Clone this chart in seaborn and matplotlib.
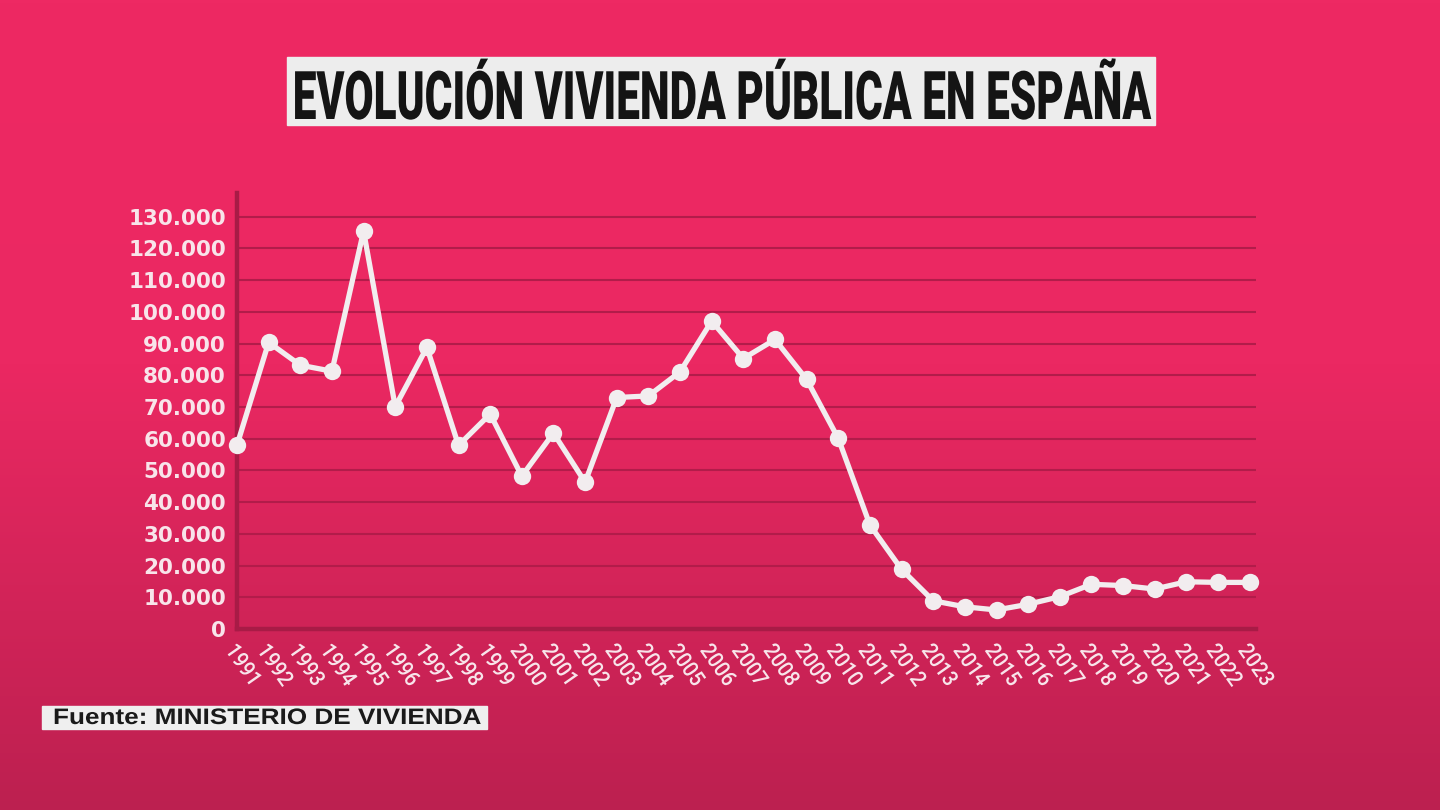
import matplotlib
matplotlib.use("Agg")
import numpy as np
import matplotlib.pyplot as plt
import seaborn as sns
from matplotlib.patheffects import AbstractPathEffect
from matplotlib.transforms import Affine2D
from matplotlib.colors import LinearSegmentedColormap
from matplotlib.patches import Rectangle
from matplotlib.ticker import FuncFormatter

# datos (viviendas protegidas por año)
years = list(range(1991, 2024))
viviendas = [58000, 90400, 83200, 81300, 125500, 70100, 88800, 57900, 67800, 48200,
             61800, 46300, 73000, 73500, 81100, 97100, 85300, 91300, 78700, 60100,
             32800, 18800, 8900, 7000, 6000, 7800, 10200, 14100, 13700, 12600,
             14900, 14700, 14700]
y_ticks = list(range(0, 130001, 10000))

TITLE = "EVOLUCIÓN VIVIENDA PÚBLICA EN ESPAÑA"
SOURCE = "Fuente: MINISTERIO DE VIVIENDA"

W, H = 1440, 810


class Stretch(AbstractPathEffect):
    """Estira el texto en vertical (para imitar una fuente condensada)."""
    def __init__(self, sy):
        super().__init__()
        self.sy = sy

    def draw_path(self, renderer, gc, tpath, affine, rgbFace=None):
        renderer.draw_path(gc, tpath, Affine2D().scale(1, self.sy) + affine, rgbFace)


sns.set_theme(style="white")
plt.rcParams["font.family"] = ["DejaVu Sans"]

fig = plt.figure(figsize=(W / 100, H / 100), dpi=100)

# fondo degradado
bg = fig.add_axes([0, 0, 1, 1], zorder=-10)
cmap = LinearSegmentedColormap.from_list(
    "bg", [(0, "#EE2963"), (0.45, "#EB2862"), (1, "#BC2050")])
grad = np.linspace(0, 1, 256).reshape(-1, 1)
bg.imshow(grad, aspect="auto", cmap=cmap, extent=[0, 1, 0, 1], origin="upper")
bg.set_axis_off()

# eje principal
x0, x1 = 237, 1256
y0, y1 = 629, 193
ax = fig.add_axes([x0 / W, (H - y0) / H, (x1 - x0) / W, (y0 - y1) / H])
ax.set_facecolor("none")

grid_col = "#B21C4A"
spine_col = "#A81B46"

sns.lineplot(x=years, y=viviendas, ax=ax, color="#F2EDEF", lw=3.8,
             marker="o", markersize=12.5, markeredgewidth=0,
             zorder=5, clip_on=False)

ax.set_xlim(1991, 2023.2)
ax.set_ylim(0, 137500)
ax.set_yticks(y_ticks)
ax.yaxis.set_major_formatter(FuncFormatter(lambda v, p: f"{int(v):,}".replace(",", ".")))
ax.set_xticks(years)
ax.set_xticklabels([str(y) for y in years])

ax.yaxis.grid(True, color=grid_col, lw=1.5)
ax.xaxis.grid(False)
ax.set_axisbelow(True)
ax.set_xlabel("")
ax.set_ylabel("")

for s in ["top", "right"]:
    ax.spines[s].set_visible(False)
for s in ["left", "bottom"]:
    ax.spines[s].set_color(spine_col)
    ax.spines[s].set_linewidth(3.2)

ax.tick_params(axis="both", length=0)
ax.tick_params(axis="y", pad=8)
ax.tick_params(axis="x", pad=9)
for lab in ax.get_yticklabels():
    lab.set_color("#F8E4EA")
    lab.set_fontsize(15.5)
    lab.set_fontweight("bold")
for lab in ax.get_xticklabels():
    lab.set_family(["Roboto", "DejaVu Sans"])
    lab.set_fontsize(14.5)
    lab.set_fontweight("medium")
    lab.set_color("#F8E4EA")
    lab.set_rotation(-55)
    lab.set_rotation_mode("anchor")
    lab.set_ha("left")
    lab.set_va("top")
    lab.set_path_effects([Stretch(1.1)])

# caja del título
tb = (287, 57, 1155, 125)
fig.patches.append(Rectangle((tb[0] / W, (H - tb[3]) / H), (tb[2] - tb[0]) / W,
                             (tb[3] - tb[1]) / H, transform=fig.transFigure,
                             color="#EDEDED", zorder=1))
title = fig.text((tb[0] + tb[2]) / 2 / W, (H - 119) / H, TITLE, ha="center",
                 va="baseline", color="#141414", fontsize=30, fontweight="black",
                 family=["Roboto", "DejaVu Sans"], zorder=2)

# caja de la fuente
sb = (42, 706, 487, 729)
fig.patches.append(Rectangle((sb[0] / W, (H - sb[3]) / H), (sb[2] - sb[0]) / W,
                             (sb[3] - sb[1]) / H, transform=fig.transFigure,
                             color="#EFEFEF", zorder=1))
source = fig.text(53 / W, (H - 724) / H, SOURCE, ha="left", va="baseline",
                  color="#1A1A1A", fontsize=14, fontweight="bold",
                  family=["Liberation Sans", "DejaVu Sans"], zorder=2)

# ajustar anchura de los textos y estirarlos a la altura de letra del original
fig.canvas.draw()
r = fig.canvas.get_renderer()
for t, width, cap in [(title, 858, 48), (source, 429, 16)]:
    bb = t.get_window_extent(r)
    fs = t.get_fontsize() * width / bb.width
    t.set_fontsize(fs)
    cap_px = 0.715 * fs * 100 / 72
    t.set_path_effects([Stretch(cap / cap_px)])

fig.savefig("out.png", dpi=100)
plt.close(fig)
